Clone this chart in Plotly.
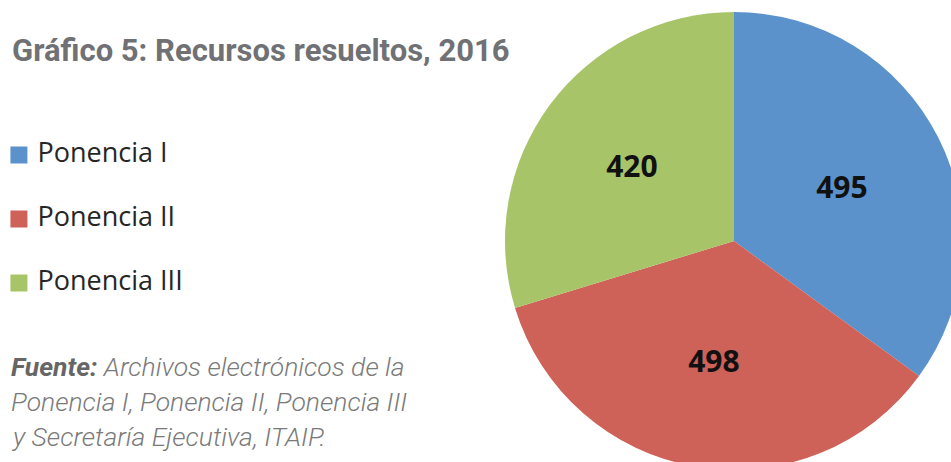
import plotly.graph_objects as go

# ---- data ----
categories = ["Ponencia I", "Ponencia II", "Ponencia III"]
values = [495, 498, 420]
colors = ["#5B92CB", "#CE6158", "#A8C468"]
title_text = "Gráfico 5: Recursos resueltos, 2016"
source_lines = [
    "<span style='color:#666666'><b>Fuente:</b></span> Archivos electrónicos de la",
    "Ponencia I, Ponencia II, Ponencia III",
    "y Secretaría Ejecutiva, ITAIP.",
]

# ---- layout geometry (pixels) ----
W, H = 970, 476
def px(x):
    return x / W
def py(y):
    return 1 - y / H

cx, cy, R = 734, 241, 229

fig = go.Figure()

fig.add_trace(go.Pie(
    labels=categories,
    values=values,
    marker=dict(colors=colors, line=dict(width=0)),
    sort=False,
    direction="clockwise",
    rotation=0,
    texttemplate="%{value}",
    textposition="inside",
    insidetextorientation="horizontal",
    textfont=dict(family="Open Sans", size=30, color="#111111", weight=700),
    hoverinfo="skip",
    showlegend=False,
    domain=dict(x=[px(cx - R), px(cx + R)], y=[py(cy + R), py(cy - R)]),
))

# legend drawn as a scatter on a hidden axis
idx = list(range(len(categories)))
fig.add_trace(go.Scatter(
    x=[0] * len(categories),
    y=idx,
    mode="markers+text",
    marker=dict(symbol="square", size=17, color=colors, line=dict(width=0)),
    text=[" " + c for c in categories],
    textposition="middle right",
    textfont=dict(family="Open Sans", size=27, color="#262626"),
    hoverinfo="skip",
    showlegend=False,
    cliponaxis=False,
))

fig.update_xaxes(visible=False, range=[-0.65, 9.35], domain=[0, px(291)], fixedrange=True)
fig.update_yaxes(visible=False, range=[2.5, -0.5], domain=[py(315), py(123)], fixedrange=True)

annotations = [dict(
    text="<b>" + title_text + "</b>",
    xref="paper", yref="paper", x=px(10), y=py(51),
    xanchor="left", yanchor="middle", showarrow=False,
    font=dict(family="Roboto", size=31, color="#707175"),
)]
line_y = [366, 401, 436]
for t, ly in zip(source_lines, line_y):
    annotations.append(dict(
        text="<i>" + t + "</i>",
        xref="paper", yref="paper", x=px(9), y=py(ly),
        xanchor="left", yanchor="middle", showarrow=False,
        font=dict(family="Roboto", size=26.5, color="#7a7a7a", weight=300),
    ))

fig.update_layout(
    width=W, height=H,
    margin=dict(l=0, r=0, t=0, b=0),
    paper_bgcolor="white",
    plot_bgcolor="white",
    annotations=annotations,
)

fig.write_html(
    "out.html",
    config={"displayModeBar": False},
    post_script="document.body.style.margin='0';document.body.style.overflow='hidden';document.documentElement.style.overflow='hidden';",
)
